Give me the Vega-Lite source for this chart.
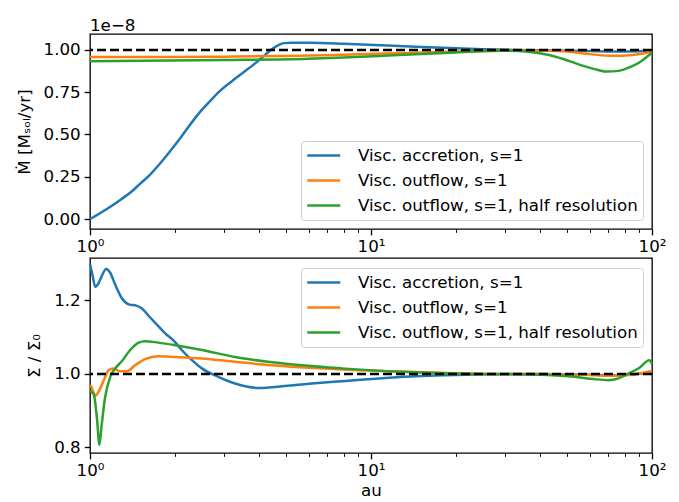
{
  "$schema": "https://vega.github.io/schema/vega-lite/v6.json",
  "padding": {"left": 15, "top": 17, "right": 5, "bottom": 0},
  "datasets": {
    "top": [
      {"s":"a","x":1.0,"y":0.0},{"s":"a","x":1.05,"y":0.02},{"s":"a","x":1.1,"y":0.04},{"s":"a","x":1.2,"y":0.08},{"s":"a","x":1.3,"y":0.12},{"s":"a","x":1.4,"y":0.16},{"s":"a","x":1.5,"y":0.205},{"s":"a","x":1.62,"y":0.255},{"s":"a","x":1.8,"y":0.34},{"s":"a","x":2.0,"y":0.435},{"s":"a","x":2.12,"y":0.49},{"s":"a","x":2.3,"y":0.57},{"s":"a","x":2.5,"y":0.645},{"s":"a","x":2.7,"y":0.705},{"s":"a","x":2.87,"y":0.75},{"s":"a","x":3.2,"y":0.815},{"s":"a","x":3.5,"y":0.865},{"s":"a","x":3.8,"y":0.91},{"s":"a","x":4.1,"y":0.955},{"s":"a","x":4.4,"y":1.0},{"s":"a","x":4.7,"y":1.03},{"s":"a","x":4.9,"y":1.04},{"s":"a","x":5.2,"y":1.043},{"s":"a","x":6,"y":1.042},{"s":"a","x":8,"y":1.036},{"s":"a","x":12,"y":1.025},{"s":"a","x":18,"y":1.012},{"s":"a","x":25,"y":1.004},{"s":"a","x":32,"y":1.0},{"s":"a","x":45,"y":0.997},{"s":"a","x":60,"y":0.993},{"s":"a","x":75,"y":0.99},{"s":"a","x":90,"y":0.992},{"s":"a","x":100,"y":0.995},
      {"s":"o","x":1,"y":0.958},{"s":"o","x":2,"y":0.958},{"s":"o","x":3,"y":0.96},{"s":"o","x":5,"y":0.964},{"s":"o","x":8,"y":0.972},{"s":"o","x":12,"y":0.98},{"s":"o","x":20,"y":0.99},{"s":"o","x":30,"y":0.997},{"s":"o","x":40,"y":0.997},{"s":"o","x":50,"y":0.99},{"s":"o","x":60,"y":0.975},{"s":"o","x":72,"y":0.965},{"s":"o","x":85,"y":0.97},{"s":"o","x":95,"y":0.982},{"s":"o","x":100,"y":0.99},
      {"s":"h","x":1,"y":0.933},{"s":"h","x":3,"y":0.94},{"s":"h","x":6,"y":0.948},{"s":"h","x":8,"y":0.955},{"s":"h","x":12,"y":0.968},{"s":"h","x":20,"y":0.985},{"s":"h","x":30,"y":0.995},{"s":"h","x":37,"y":0.988},{"s":"h","x":43,"y":0.97},{"s":"h","x":48.6,"y":0.945},{"s":"h","x":55.8,"y":0.91},{"s":"h","x":62,"y":0.888},{"s":"h","x":69,"y":0.872},{"s":"h","x":76,"y":0.876},{"s":"h","x":84,"y":0.9},{"s":"h","x":91,"y":0.93},{"s":"h","x":96,"y":0.96},{"s":"h","x":100,"y":0.984}
    ],
    "bot": [
      {"s":"a","x":1.0,"y":1.298},{"s":"a","x":1.02,"y":1.27},{"s":"a","x":1.044,"y":1.237},{"s":"a","x":1.07,"y":1.245},{"s":"a","x":1.1,"y":1.265},{"s":"a","x":1.14,"y":1.285},{"s":"a","x":1.18,"y":1.275},{"s":"a","x":1.23,"y":1.242},{"s":"a","x":1.3,"y":1.205},{"s":"a","x":1.373,"y":1.189},{"s":"a","x":1.469,"y":1.185},{"s":"a","x":1.53,"y":1.178},{"s":"a","x":1.616,"y":1.158},{"s":"a","x":1.75,"y":1.13},{"s":"a","x":1.852,"y":1.11},{"s":"a","x":2.0,"y":1.088},{"s":"a","x":2.12,"y":1.065},{"s":"a","x":2.3,"y":1.038},{"s":"a","x":2.5,"y":1.015},{"s":"a","x":2.86,"y":0.992},{"s":"a","x":3.28,"y":0.974},{"s":"a","x":3.97,"y":0.962},{"s":"a","x":4.94,"y":0.967},{"s":"a","x":6,"y":0.973},{"s":"a","x":7.86,"y":0.98},{"s":"a","x":12,"y":0.99},{"s":"a","x":18,"y":0.996},{"s":"a","x":25,"y":0.999},{"s":"a","x":40,"y":1.0},{"s":"a","x":60,"y":0.998},{"s":"a","x":75,"y":0.996},{"s":"a","x":100,"y":1.005},
      {"s":"o","x":1.0,"y":0.97},{"s":"o","x":1.011,"y":0.965},{"s":"o","x":1.044,"y":0.94},{"s":"o","x":1.07,"y":0.95},{"s":"o","x":1.1,"y":0.969},{"s":"o","x":1.13,"y":0.99},{"s":"o","x":1.165,"y":1.01},{"s":"o","x":1.21,"y":1.015},{"s":"o","x":1.25,"y":1.01},{"s":"o","x":1.28,"y":1.007},{"s":"o","x":1.35,"y":1.007},{"s":"o","x":1.45,"y":1.024},{"s":"o","x":1.57,"y":1.04},{"s":"o","x":1.75,"y":1.048},{"s":"o","x":2.01,"y":1.046},{"s":"o","x":2.5,"y":1.042},{"s":"o","x":3.28,"y":1.033},{"s":"o","x":4.31,"y":1.024},{"s":"o","x":7.86,"y":1.012},{"s":"o","x":12,"y":1.007},{"s":"o","x":20,"y":1.002},{"s":"o","x":30,"y":1.0},{"s":"o","x":45,"y":0.999},{"s":"o","x":60,"y":0.997},{"s":"o","x":70,"y":0.995},{"s":"o","x":85,"y":0.998},{"s":"o","x":100,"y":1.008},
      {"s":"h","x":1.0,"y":0.955},{"s":"h","x":1.011,"y":0.951},{"s":"h","x":1.03,"y":0.946},{"s":"h","x":1.059,"y":0.878},{"s":"h","x":1.08,"y":0.807},{"s":"h","x":1.1,"y":0.86},{"s":"h","x":1.13,"y":0.933},{"s":"h","x":1.18,"y":0.992},{"s":"h","x":1.23,"y":1.015},{"s":"h","x":1.3,"y":1.035},{"s":"h","x":1.39,"y":1.065},{"s":"h","x":1.49,"y":1.085},{"s":"h","x":1.57,"y":1.089},{"s":"h","x":1.75,"y":1.085},{"s":"h","x":2.01,"y":1.078},{"s":"h","x":2.5,"y":1.065},{"s":"h","x":3.28,"y":1.046},{"s":"h","x":4.31,"y":1.033},{"s":"h","x":7.86,"y":1.015},{"s":"h","x":13.5,"y":1.005},{"s":"h","x":23,"y":1.0},{"s":"h","x":40,"y":0.998},{"s":"h","x":53,"y":0.992},{"s":"h","x":62,"y":0.986},{"s":"h","x":70,"y":0.983},{"s":"h","x":76,"y":0.988},{"s":"h","x":82,"y":1.0},{"s":"h","x":90,"y":1.016},{"s":"h","x":97.8,"y":1.037},{"s":"h","x":100,"y":1.027}
    ]
  },
  "vconcat": [
    {
      "width": 562, "height": 195,
      "title": {"text": "1e\u22128", "anchor": "start", "frame": "group", "fontSize": 16.7, "fontWeight": "normal", "offset": -1, "font": "DejaVu Sans", "color": "black"},
      "layer": [
        {
          "data": {"name": "top"},
          "mark": {"type": "line", "strokeWidth": 2.5, "interpolate": "monotone"},
          "encoding": {
            "x": {"field": "x", "type": "quantitative", "scale": {"type": "log", "domain": [1, 100], "nice": false},
                  "axis": {"title": null, "values": [1,2,3,4,5,6,7,8,9,10,20,30,40,50,60,70,80,90,100],
                           "labelExpr": "datum.value == 1 ? '10\u2070' : datum.value == 10 ? '10\u00b9' : datum.value == 100 ? '10\u00b2' : ''",
                           "tickSize": {"condition": {"test": "datum.value == 1 || datum.value == 10 || datum.value == 100", "value": 5.8}, "value": 3.3},
                           "tickWidth": {"condition": {"test": "datum.value == 1 || datum.value == 10 || datum.value == 100", "value": 1.33}, "value": 1}}},
            "y": {"field": "y", "type": "quantitative", "scale": {"domain": [-0.059, 1.094], "nice": false, "zero": false},
                  "axis": {"title": "M\u0307  [M\u209b\u2092\u2097/yr]", "values": [0, 0.25, 0.5, 0.75, 1.0], "format": ".2f"}},
            "color": {"field": "s", "type": "nominal", "scale": {"domain": ["a", "o", "h"], "range": ["#1f77b4", "#ff7f0e", "#2ca02c"]},
                      "legend": {"orient": "bottom-right", "labelExpr": "datum.label == 'a' ? 'Visc. accretion, s=1' : datum.label == 'o' ? 'Visc. outflow, s=1' : 'Visc. outflow, s=1, half resolution'"}}
          }
        },
        {
          "data": {"values": [{}]},
          "mark": {"type": "rule", "color": "black", "strokeWidth": 2.5, "strokeDash": [9, 4]},
          "encoding": {"y": {"datum": 1}}
        }
      ]
    },
    {
      "width": 562, "height": 195,
      "layer": [
        {
          "data": {"name": "bot"},
          "mark": {"type": "line", "strokeWidth": 2.5, "interpolate": "monotone"},
          "encoding": {
            "x": {"field": "x", "type": "quantitative", "scale": {"type": "log", "domain": [1, 100], "nice": false},
                  "axis": {"title": "au", "titlePadding": 3, "values": [1,2,3,4,5,6,7,8,9,10,20,30,40,50,60,70,80,90,100],
                           "labelExpr": "datum.value == 1 ? '10\u2070' : datum.value == 10 ? '10\u00b9' : datum.value == 100 ? '10\u00b2' : ''",
                           "tickSize": {"condition": {"test": "datum.value == 1 || datum.value == 10 || datum.value == 100", "value": 5.8}, "value": 3.3},
                           "tickWidth": {"condition": {"test": "datum.value == 1 || datum.value == 10 || datum.value == 100", "value": 1.33}, "value": 1}}},
            "y": {"field": "y", "type": "quantitative", "scale": {"domain": [0.785, 1.315], "nice": false, "zero": false},
                  "axis": {"title": "\u03a3 / \u03a3\u2080", "values": [0.8, 1.0, 1.2], "format": ".1f"}},
            "color": {"field": "s", "type": "nominal", "scale": {"domain": ["a", "o", "h"], "range": ["#1f77b4", "#ff7f0e", "#2ca02c"]},
                      "legend": {"orient": "top-right", "labelExpr": "datum.label == 'a' ? 'Visc. accretion, s=1' : datum.label == 'o' ? 'Visc. outflow, s=1' : 'Visc. outflow, s=1, half resolution'"}}
          }
        },
        {
          "data": {"values": [{}]},
          "mark": {"type": "rule", "color": "black", "strokeWidth": 2.5, "strokeDash": [9, 4]},
          "encoding": {"y": {"datum": 1}}
        }
      ]
    }
  ],
  "spacing": 29,
  "bounds": "flush",
  "resolve": {"legend": {"color": "independent"}},
  "config": {
    "font": "DejaVu Sans",
    "background": "white",
    "view": {"stroke": "black", "strokeWidth": 1.33},
    "axis": {
      "grid": false, "domain": false,
      "tickColor": "black", "labelColor": "black", "titleColor": "black",
      "labelFont": "DejaVu Sans", "titleFont": "DejaVu Sans",
      "labelFontSize": 16.7, "titleFontSize": 16.7, "titleFontWeight": "normal",
      "labelPadding": 4, "titlePadding": 10, "labelOverlap": false, "labelFlush": false
    },
    "axisY": {"tickSize": 5.8, "tickWidth": 1.33},
    "legend": {
      "title": null, "offset": 9.5,
      "symbolType": "M-1,0H3", "symbolSize": 272, "symbolStrokeWidth": 2.5, "symbolFillColor": "transparent",
      "labelFont": "DejaVu Sans", "labelFontSize": 16.7, "labelColor": "black", "labelOffset": 32.9, "labelLimit": 400,
      "padding": 5, "rowPadding": 6,
      "strokeColor": "#cccccc", "fillColor": "rgba(255,255,255,0.8)", "cornerRadius": 3
    }
  }
}
